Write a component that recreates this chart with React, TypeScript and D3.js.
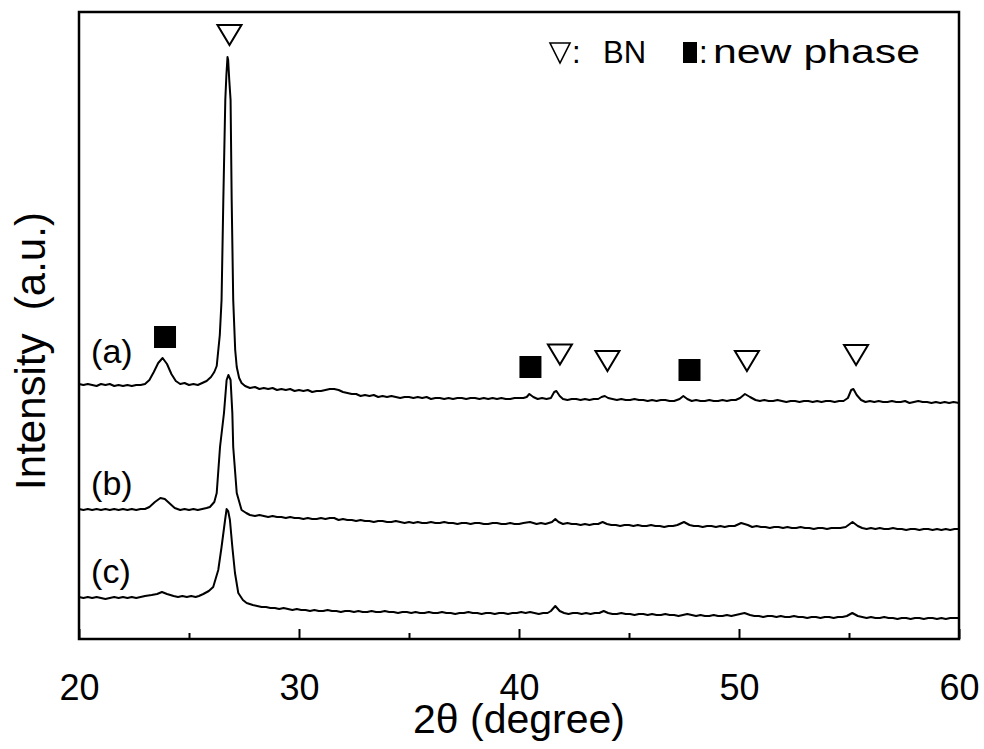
import React, { useEffect, useRef } from 'react';
import * as d3 from 'd3';

const W = 984;
const H = 749;
const PLOT = { left: 79, right: 959, top: 12, bottom: 639 };
const FONT = "'Liberation Sans', Arial, Helvetica, sans-serif";

const xDomain: [number, number] = [20, 60];
const yDomain: [number, number] = [0, 627];
const xTicksMajor = [20, 30, 40, 50, 60];
const xTicksMinor = [25, 35, 45, 55];
const xAxisTitle = '2θ (degree)';
const yAxisTitle = 'Intensity  (a.u.)';

// 2θ (deg), intensity (a.u., stacked)
const seriesA: [number, number][] = [
  [20.0, 255], [20.2, 254], [20.4, 255], [20.6, 254], [20.8, 253], [21.0, 255], [21.2, 254], [21.4, 255],
  [21.6, 253], [21.8, 254], [22.0, 253], [22.2, 254], [22.4, 253], [22.6, 254], [22.8, 254], [23.0, 255],
  [23.2, 259], [23.4, 267], [23.6, 276], [23.8, 281], [24.0, 275], [24.2, 265], [24.4, 258], [24.6, 255],
  [24.8, 256], [25.0, 254], [25.2, 255], [25.4, 254], [25.6, 256], [25.8, 258], [26.0, 262], [26.15, 267],
  [26.26, 273], [26.4, 304], [26.48, 339], [26.56, 439], [26.65, 539], [26.7, 564], [26.75, 582], [26.78, 579],
  [26.83, 559], [26.89, 539], [26.94, 439], [27.01, 339], [27.1, 289], [27.17, 272], [27.28, 261], [27.39, 256],
  [27.55, 253], [27.77, 251], [28.0, 252], [28.2, 250], [28.4, 251], [28.6, 250], [28.8, 251], [29.0, 249],
  [29.2, 250], [29.4, 249], [29.6, 250], [29.8, 248], [30.0, 249], [30.2, 248], [30.4, 249], [30.6, 247],
  [30.8, 248], [31.0, 248], [31.2, 249], [31.4, 250], [31.6, 250], [31.8, 249], [32.0, 247], [32.2, 246],
  [32.4, 245], [32.6, 245], [32.8, 243], [33.0, 244], [33.2, 243], [33.4, 244], [33.6, 242], [33.8, 243],
  [34.0, 242], [34.2, 243], [34.4, 242], [34.6, 241], [34.8, 242], [35.0, 242], [35.2, 241], [35.4, 242],
  [35.6, 241], [35.8, 242], [36.0, 240], [36.2, 241], [36.4, 241], [36.6, 240], [36.8, 241], [37.0, 240],
  [37.2, 241], [37.4, 241], [37.6, 240], [37.8, 241], [38.0, 241], [38.2, 240], [38.4, 241], [38.6, 240],
  [38.8, 241], [39.0, 240], [39.2, 241], [39.4, 240], [39.6, 240], [39.8, 241], [40.0, 241], [40.2, 241],
  [40.35, 242], [40.47, 245], [40.65, 242], [40.85, 240], [41.05, 241], [41.25, 240], [41.45, 241], [41.6, 247],
  [41.7, 248], [41.85, 243], [42.0, 240], [42.2, 239], [42.4, 240], [42.6, 240], [42.8, 239], [43.0, 240],
  [43.2, 239], [43.4, 240], [43.6, 240], [43.75, 242], [43.9, 243], [44.05, 241], [44.25, 240], [44.45, 239],
  [44.65, 240], [44.85, 239], [45.05, 239], [45.25, 240], [45.45, 239], [45.65, 239], [45.85, 238], [46.05, 239],
  [46.25, 238], [46.45, 239], [46.65, 239], [46.85, 238], [47.05, 238], [47.3, 240], [47.47, 243], [47.65, 240],
  [47.85, 238], [48.05, 239], [48.25, 238], [48.45, 238], [48.65, 239], [48.85, 238], [49.05, 238], [49.25, 239],
  [49.45, 238], [49.65, 239], [49.85, 239], [50.05, 241], [50.27, 245], [50.5, 242], [50.75, 239], [50.95, 238],
  [51.15, 239], [51.35, 238], [51.55, 238], [51.75, 239], [51.95, 238], [52.15, 237], [52.35, 238], [52.55, 238],
  [52.75, 237], [52.95, 238], [53.15, 238], [53.35, 237], [53.55, 238], [53.75, 237], [53.95, 238], [54.15, 238],
  [54.35, 237], [54.55, 238], [54.75, 238], [54.95, 241], [55.1, 249], [55.2, 250], [55.35, 244], [55.55, 239],
  [55.75, 237], [55.95, 238], [56.15, 237], [56.35, 238], [56.55, 237], [56.75, 237], [56.95, 238], [57.15, 237],
  [57.35, 237], [57.55, 238], [57.75, 236], [57.95, 237], [58.15, 238], [58.35, 237], [58.55, 237], [58.75, 236],
  [58.95, 237], [59.15, 236], [59.35, 237], [59.55, 236], [59.75, 237], [60.0, 236],
];

const seriesB: [number, number][] = [
  [20.0, 130], [20.2, 129], [20.4, 130], [20.6, 129], [20.8, 130], [21.0, 129], [21.2, 130], [21.4, 129],
  [21.6, 130], [21.8, 129], [22.0, 130], [22.2, 129], [22.4, 130], [22.6, 129], [22.8, 130], [23.0, 130],
  [23.2, 132], [23.45, 137], [23.7, 141], [23.9, 140], [24.1, 136], [24.35, 131], [24.6, 129], [24.8, 130],
  [25.0, 129], [25.2, 130], [25.4, 129], [25.6, 130], [25.8, 131], [25.95, 132], [26.15, 137], [26.26, 146],
  [26.41, 192], [26.59, 226], [26.71, 259], [26.79, 264], [26.85, 261], [26.89, 259], [26.97, 226], [27.01, 192],
  [27.17, 146], [27.39, 129], [27.6, 126], [27.77, 124], [28.0, 123], [28.2, 124], [28.4, 123], [28.6, 122],
  [28.8, 123], [29.0, 122], [29.2, 122], [29.4, 121], [29.6, 122], [29.8, 121], [30.0, 121], [30.2, 120],
  [30.4, 121], [30.6, 120], [30.8, 120], [31.0, 121], [31.2, 120], [31.4, 121], [31.6, 121], [31.8, 119],
  [32.0, 120], [32.2, 119], [32.4, 119], [32.6, 118], [32.8, 119], [33.0, 118], [33.2, 118], [33.4, 117],
  [33.6, 118], [33.8, 118], [34.0, 117], [34.2, 117], [34.4, 118], [34.6, 117], [34.8, 116], [35.0, 117],
  [35.2, 116], [35.4, 117], [35.6, 116], [35.8, 116], [36.0, 117], [36.2, 116], [36.4, 116], [36.6, 117],
  [36.8, 116], [37.0, 116], [37.2, 115], [37.4, 116], [37.6, 116], [37.8, 115], [38.0, 116], [38.2, 116],
  [38.4, 115], [38.6, 115], [38.8, 116], [39.0, 116], [39.2, 115], [39.4, 115], [39.6, 116], [39.8, 115],
  [40.0, 115], [40.2, 116], [40.5, 117], [40.8, 115], [41.0, 116], [41.2, 115], [41.5, 117], [41.65, 120],
  [41.8, 117], [42.0, 115], [42.2, 116], [42.4, 115], [42.6, 115], [42.8, 114], [43.0, 115], [43.2, 114],
  [43.4, 115], [43.6, 115], [43.8, 117], [44.0, 115], [44.2, 114], [44.4, 114], [44.6, 113], [44.8, 114],
  [45.0, 114], [45.2, 113], [45.4, 114], [45.6, 113], [45.8, 113], [46.0, 114], [46.2, 113], [46.4, 113],
  [46.6, 112], [46.8, 113], [47.0, 113], [47.2, 114], [47.5, 117], [47.75, 114], [47.95, 113], [48.15, 113],
  [48.35, 112], [48.55, 113], [48.75, 113], [48.95, 112], [49.15, 113], [49.35, 112], [49.55, 113], [49.8, 113],
  [50.1, 116], [50.4, 114], [50.6, 112], [50.8, 113], [51.0, 112], [51.2, 112], [51.4, 111], [51.6, 112],
  [51.8, 112], [52.0, 111], [52.2, 112], [52.4, 111], [52.6, 111], [52.8, 112], [53.0, 111], [53.2, 111],
  [53.4, 110], [53.6, 111], [53.8, 111], [54.0, 110], [54.2, 111], [54.4, 111], [54.6, 111], [54.85, 112],
  [55.16, 117], [55.4, 113], [55.6, 111], [55.8, 110], [56.0, 111], [56.2, 110], [56.4, 111], [56.6, 110],
  [56.8, 110], [57.0, 111], [57.2, 110], [57.4, 110], [57.6, 109], [57.8, 110], [58.0, 110], [58.2, 109],
  [58.4, 110], [58.6, 110], [58.8, 109], [59.0, 110], [59.2, 109], [59.4, 110], [59.6, 109], [59.8, 110],
  [60.0, 110],
];

const seriesC: [number, number][] = [
  [20.0, 42], [20.2, 41], [20.4, 42], [20.6, 41], [20.8, 42], [21.0, 41], [21.2, 40], [21.4, 41],
  [21.6, 42], [21.8, 41], [22.0, 42], [22.2, 41], [22.4, 42], [22.6, 41], [22.8, 42], [23.0, 43],
  [23.3, 44], [23.55, 45], [23.77, 47], [24.0, 45], [24.3, 43], [24.5, 42], [24.7, 43], [24.9, 42],
  [25.1, 43], [25.3, 42], [25.45, 43], [25.65, 45], [25.9, 48], [26.1, 52], [26.33, 69], [26.48, 92],
  [26.64, 119], [26.71, 130], [26.78, 128], [26.86, 119], [26.97, 92], [27.09, 66], [27.24, 46], [27.45, 39],
  [27.62, 36], [27.9, 34], [28.1, 33], [28.3, 32], [28.5, 32], [28.7, 31], [28.9, 31], [29.1, 30],
  [29.3, 31], [29.5, 30], [29.7, 29], [29.9, 30], [30.1, 29], [30.3, 29], [30.5, 28], [30.7, 29],
  [30.9, 28], [31.1, 28], [31.3, 29], [31.5, 28], [31.7, 28], [31.9, 27], [32.1, 28], [32.3, 28],
  [32.5, 27], [32.7, 28], [32.9, 27], [33.1, 27], [33.3, 28], [33.5, 27], [33.7, 27], [33.9, 28],
  [34.1, 27], [34.3, 27], [34.5, 26], [34.7, 27], [34.9, 27], [35.1, 26], [35.3, 27], [35.5, 26],
  [35.7, 26], [35.9, 27], [36.1, 26], [36.3, 26], [36.5, 27], [36.7, 26], [36.9, 26], [37.1, 25],
  [37.3, 26], [37.5, 26], [37.7, 27], [37.9, 26], [38.1, 26], [38.3, 25], [38.5, 26], [38.7, 26],
  [38.9, 25], [39.1, 26], [39.3, 26], [39.5, 25], [39.7, 26], [39.9, 26], [40.1, 27], [40.3, 26],
  [40.5, 27], [40.7, 26], [40.9, 25], [41.1, 26], [41.3, 26], [41.45, 28], [41.65, 33], [41.85, 28],
  [42.05, 26], [42.25, 25], [42.45, 26], [42.65, 26], [42.85, 25], [43.05, 26], [43.25, 25], [43.45, 26],
  [43.65, 26], [43.85, 28], [44.05, 26], [44.25, 25], [44.45, 25], [44.65, 26], [44.85, 25], [45.05, 25],
  [45.25, 24], [45.45, 25], [45.65, 25], [45.85, 24], [46.05, 25], [46.25, 24], [46.45, 24], [46.65, 25],
  [46.85, 24], [47.05, 24], [47.25, 23], [47.45, 24], [47.65, 25], [47.85, 24], [48.05, 23], [48.25, 24],
  [48.45, 23], [48.65, 23], [48.85, 24], [49.05, 23], [49.25, 23], [49.45, 24], [49.65, 23], [49.85, 24],
  [50.05, 25], [50.25, 26], [50.5, 24], [50.7, 23], [50.9, 23], [51.1, 22], [51.3, 23], [51.5, 23],
  [51.7, 22], [51.9, 23], [52.1, 22], [52.3, 22], [52.5, 23], [52.7, 22], [52.9, 22], [53.1, 21],
  [53.3, 22], [53.5, 22], [53.7, 21], [53.9, 22], [54.1, 22], [54.3, 21], [54.5, 22], [54.7, 22],
  [54.9, 23], [55.15, 26], [55.4, 23], [55.6, 22], [55.8, 21], [56.0, 22], [56.2, 21], [56.4, 21],
  [56.6, 22], [56.8, 21], [57.0, 21], [57.2, 20], [57.4, 21], [57.6, 21], [57.8, 20], [58.0, 21],
  [58.2, 21], [58.4, 20], [58.6, 21], [58.8, 21], [59.0, 20], [59.2, 21], [59.4, 20], [59.6, 21],
  [59.8, 21], [60.0, 21],
];

const seriesList = [seriesA, seriesB, seriesC];
const seriesNames = ['(a)', '(b)', '(c)'];
// label anchor (2θ, intensity) for each curve name
const seriesLabelPos: [number, number][] = [[20.55, 276], [20.55, 144], [20.55, 56]];

// phase markers (2θ, intensity)
const bnMarkers: [number, number][] = [[26.84, 604], [41.86, 284.5], [44.02, 278], [50.36, 278], [55.32, 284]];
const newPhaseMarkers: [number, number][] = [[23.91, 302], [40.52, 272], [47.75, 269]];

const legendBN = 'BN';
const legendNew = 'new phase';

export default function App() {
  const axisRef = useRef<SVGGElement>(null);
  const minorRef = useRef<SVGGElement>(null);

  const x = d3.scaleLinear().domain(xDomain).range([PLOT.left, PLOT.right]);
  const y = d3.scaleLinear().domain(yDomain).range([PLOT.bottom, PLOT.top]);
  const line = d3.line<[number, number]>().x(d => x(d[0])).y(d => y(d[1]));

  useEffect(() => {
    if (axisRef.current) {
      const g = d3.select(axisRef.current);
      g.selectAll('*').remove();
      g.call(d3.axisBottom(x).tickValues(xTicksMajor).tickSize(-10).tickPadding(35).tickFormat(d3.format('d')));
      g.select('.domain').remove();
      g.selectAll('line').attr('stroke', '#000').attr('stroke-width', 2);
      g.selectAll('text').attr('font-size', 36).attr('font-family', FONT).attr('fill', '#000');
    }
    if (minorRef.current) {
      const g = d3.select(minorRef.current);
      g.selectAll('*').remove();
      g.call(d3.axisBottom(x).tickValues(xTicksMinor).tickSize(-6).tickFormat(() => ''));
      g.select('.domain').remove();
      g.selectAll('line').attr('stroke', '#000').attr('stroke-width', 2);
    }
  });

  const tri = (cx: number, cy: number, w: number, h: number) =>
    `M${cx - w / 2},${cy - h / 2}L${cx + w / 2},${cy - h / 2}L${cx},${cy + h / 2}Z`;

  return (
    <svg width={W} height={H} style={{ position: 'absolute', left: 0, top: 0, background: '#fff' }}
      fontFamily={FONT}>
      <rect x={0} y={0} width={W} height={H} fill="#fff" />
      {seriesList.map((s, i) => (
        <path key={i} d={line(s) || ''} fill="none" stroke="#000" strokeWidth={2} strokeLinejoin="round" />
      ))}
      {seriesNames.map((n, i) => (
        <text key={n} x={x(seriesLabelPos[i][0])} y={y(seriesLabelPos[i][1])} fontSize={34} fill="#000">{n}</text>
      ))}
      {bnMarkers.map((m, i) => (
        <path key={'bn' + i} d={tri(x(m[0]), y(m[1]), 24, 20)} fill="#fff" stroke="#000" strokeWidth={2} />
      ))}
      {newPhaseMarkers.map((m, i) => (
        <rect key={'np' + i} x={x(m[0]) - 11} y={y(m[1]) - 11} width={22} height={22} fill="#000" />
      ))}
      {/* legend */}
      <path d={tri(560, 53, 20, 20)} fill="#fff" stroke="#000" strokeWidth={1.6} />
      <text x={572} y={63} fontSize={31} fill="#000">:</text>
      <text x={603} y={63} fontSize={31} fill="#000">{legendBN}</text>
      <rect x={683} y={42} width={14} height={21} fill="#000" />
      <text x={699} y={63} fontSize={31} fill="#000">:</text>
      <text x={713} y={63} fontSize={34} fill="#000" textLength={207} lengthAdjust="spacingAndGlyphs">{legendNew}</text>
      {/* frame */}
      <rect x={PLOT.left} y={PLOT.top} width={PLOT.right - PLOT.left} height={PLOT.bottom - PLOT.top}
        fill="none" stroke="#000" strokeWidth={2.5} />
      <g ref={axisRef} transform={`translate(0,${PLOT.bottom})`} />
      <g ref={minorRef} transform={`translate(0,${PLOT.bottom})`} />
      <text x={(PLOT.left + PLOT.right) / 2} y={733} fontSize={41} textAnchor="middle" fill="#000">{xAxisTitle}</text>
      <text transform={`translate(45,351) rotate(-90)`} fontSize={42} textAnchor="middle" fill="#000"
        style={{ whiteSpace: 'pre' }}>{yAxisTitle}</text>
    </svg>
  );
}
